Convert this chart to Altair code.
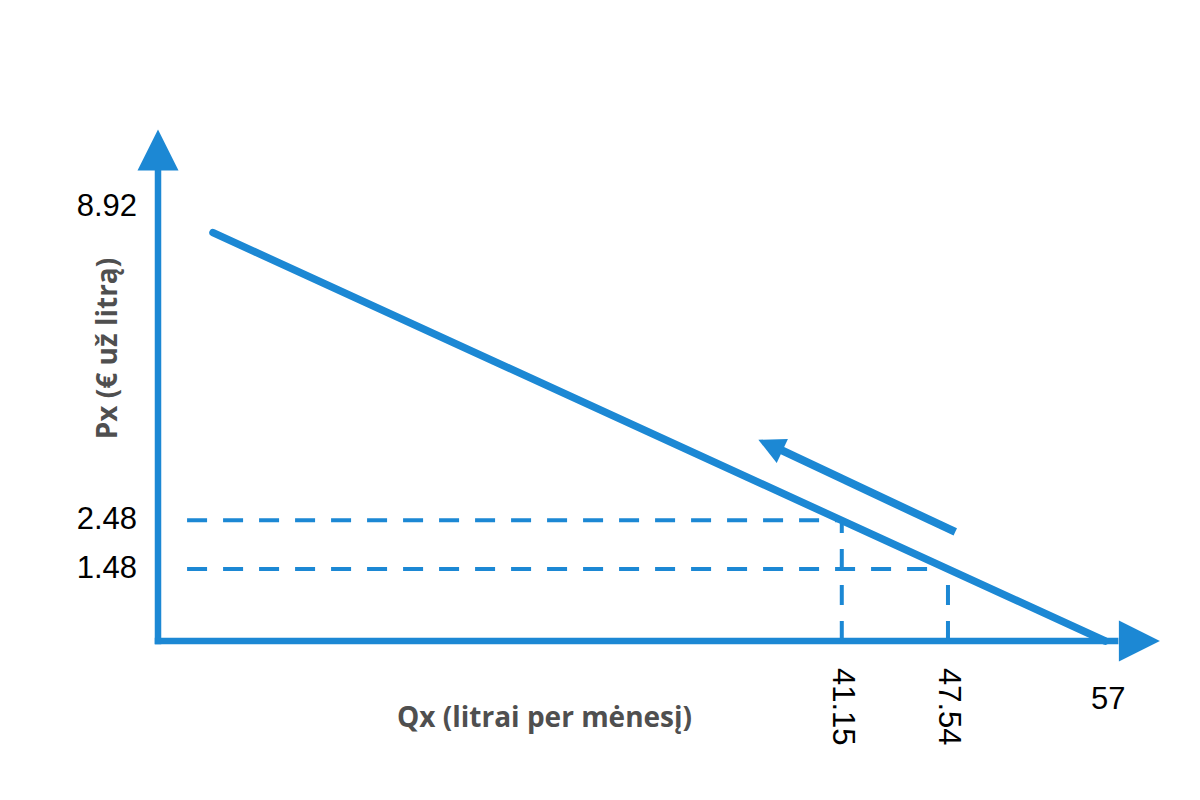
import altair as alt
import pandas as pd

BLUE = "#1C88D4"
GRAY = "#4f4f4f"

# ---- values ----
price_ticks = [8.92, 2.48, 1.48]
price_tick_labels = ["8.92", "2.48", "1.48"]
qty_points = [41.15, 47.54]
qty_point_labels = ["41.15", "47.54"]
price_points = [2.48, 1.48]
qty_intercept = [57.0]
qty_intercept_label = ["57"]
demand_q = [3.31, 57.0]
demand_p = [8.39, 0.0]
shift_q = [47.98, 37.45]
shift_p = [2.24, 3.93]
shift_head_q = [36.85]
shift_head_p = [4.02]
axis_end_q = 57.6
axis_end_p = 9.64
x_arrow_q = 59.06
y_arrow_p = 10.09
dash_start_q = 1.75
x_max = 60.3
y_max = 10.54

xs = alt.Scale(domain=[0, x_max], nice=False, zero=False)
ys = alt.Scale(domain=[0, y_max], nice=False, zero=False)

TITLE_FONT = "Open Sans"
LABEL_FONT = "Liberation Sans"

x_axis = alt.Axis(
    domain=False, ticks=False, labels=False, grid=False,
    title="Qx (litrai per mėnesį)", titleX=386, titleY=77, titleAngle=0,
    titleAlign="center", titleBaseline="middle", titleFont=TITLE_FONT,
    titleFontSize=28, titleFontWeight="bold", titleColor=GRAY)
y_axis = alt.Axis(
    domain=False, ticks=False, labels=False, grid=False,
    title="Px (€ už litrą)", titleX=-50, titleY=220, titleAngle=270,
    titleAlign="center", titleBaseline="middle", titleFont=TITLE_FONT,
    titleFontSize=28, titleFontWeight="bold", titleColor=GRAY)


def X(field="q"):
    return alt.X(f"{field}:Q", scale=xs, axis=x_axis, title="Qx (litrai per mėnesį)")


def Y(field="p"):
    return alt.Y(f"{field}:Q", scale=ys, axis=y_axis, title="Px (€ už litrą)")


# axes lines
axes_df = pd.DataFrame({
    "q": [0.0, 0.0], "q2": [axis_end_q, 0.0],
    "p": [0.0, 0.0], "p2": [0.0, axis_end_p],
})
axes = alt.Chart(axes_df).mark_rule(color=BLUE, strokeWidth=6.5, strokeCap="square").encode(
    x=X(), x2="q2:Q", y=Y(), y2="p2:Q",
)

# arrow heads on axes
heads_df = pd.DataFrame({"q": [x_arrow_q, 0.0], "p": [0.0, y_arrow_p], "ang": [90, 0]})
heads = alt.Chart(heads_df).mark_point(
    shape="M0,-1L-1,1L1,1Z", filled=True, color=BLUE, opacity=1, size=1681, strokeWidth=0
).encode(
    x=X(), y=Y(),
    angle=alt.Angle("ang:Q", scale=None),
)

# demand line
demand_df = pd.DataFrame({"q": demand_q, "p": demand_p})
demand = alt.Chart(demand_df).mark_line(color=BLUE, strokeWidth=7.5, strokeCap="round").encode(
    x=X(), y=Y(),
)

# dashed guides
hdash_df = pd.DataFrame({"q": [dash_start_q] * len(qty_points), "q2": qty_points, "p": price_points})
hdash = alt.Chart(hdash_df).mark_rule(color=BLUE, strokeWidth=4, strokeDash=[20, 16]).encode(
    x=X(), x2="q2:Q", y=Y(),
)
vdash_df = pd.DataFrame({"q": qty_points, "p": [0.0] * len(qty_points), "p2": price_points})
vdash = alt.Chart(vdash_df).mark_rule(color=BLUE, strokeWidth=4, strokeDash=[20, 16]).encode(
    x=X(), y=Y(), y2="p2:Q",
)

# movement arrow
shift_df = pd.DataFrame({"q": shift_q, "p": shift_p})
shift = alt.Chart(shift_df).mark_line(color=BLUE, strokeWidth=8).encode(
    x=X(), y=Y(),
)
shift_head_df = pd.DataFrame({"q": shift_head_q, "p": shift_head_p})
shift_head = alt.Chart(shift_head_df).mark_point(
    shape="M0,-1L-1,1L1,1Z", filled=True, color=BLUE, opacity=1, size=700, strokeWidth=0, angle=295
).encode(
    x=X(), y=Y(),
)

# tick labels
ylab_df = pd.DataFrame({"q": [0.0] * len(price_ticks), "p": price_ticks, "t": price_tick_labels})
ylab = alt.Chart(ylab_df).mark_text(
    align="right", baseline="middle", dx=-21, font=LABEL_FONT, fontSize=31, color="black"
).encode(
    x=X(), y=Y(), text="t:N",
)
xlab_df = pd.DataFrame({"q": qty_points, "p": [0.0] * len(qty_points), "t": qty_point_labels})
xlab = alt.Chart(xlab_df).mark_text(
    align="left", baseline="middle", dx=27, angle=90, font=LABEL_FONT, fontSize=31, color="black"
).encode(
    x=X(), y=Y(), text="t:N",
)
endlab_df = pd.DataFrame({"q": qty_intercept, "p": [0.0], "t": qty_intercept_label})
endlab = alt.Chart(endlab_df).mark_text(
    align="center", baseline="middle", dy=59, dx=3, font=LABEL_FONT, fontSize=31, color="black"
).encode(
    x=X(), y=Y(), text="t:N",
)

chart = alt.layer(
    axes, hdash, vdash, demand, shift, shift_head, heads, ylab, xlab, endlab
).properties(
    width=1002, height=513,
    autosize=alt.AutoSizeParams(type="none"),
    padding={"left": 150, "top": 120, "right": 30, "bottom": 140},
    background="white",
).configure_view(stroke=None)

chart.save("out.html", embed_options={"renderer": "svg", "actions": False})
